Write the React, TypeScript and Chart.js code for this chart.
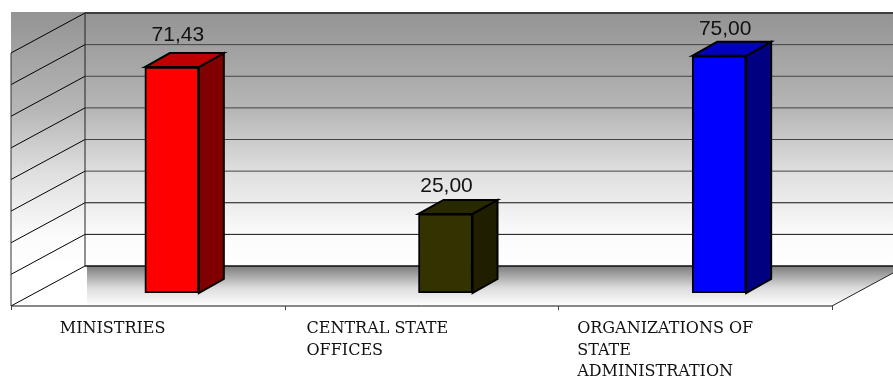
import { useEffect, useRef } from "react";
import { Chart, registerables } from "chart.js";

Chart.register(...registerables);

const categories = ["MINISTRIES", "CENTRAL STATE OFFICES", "ORGANIZATIONS OF STATE ADMINISTRATION"];
const categoryLines = [["MINISTRIES"], ["CENTRAL STATE", "OFFICES"], ["ORGANIZATIONS OF", "STATE", "ADMINISTRATION"]];
const values = [71.43, 25, 75];
const valueLabels = ["71,43", "25,00", "75,00"];
const frontColors = ["#ff0000", "#333300", "#0000ff"];
const sideColors = ["#800000", "#1f1f00", "#000080"];
const topColors = ["#bf0000", "#292900", "#0000bf"];

// Horizontal start of each axis caption relative to its category centre.
const captionShift = [-112, -139, -142];
const valueShift: [number, number][] = [[6, -26], [1, -22], [6, -21]];

// Depth of the oblique projection: bar plane to back wall, bar plane to front edge, bar thickness.
const WALL = { dx: 50, dy: -27 };
const FRONT = { dx: -24, dy: 13 };
const BAR = { dx: 25, dy: -14 };

const line = (ctx: CanvasRenderingContext2D, x1: number, y1: number, x2: number, y2: number, color: string, w = 1) => {
  ctx.strokeStyle = color;
  ctx.lineWidth = w;
  ctx.beginPath();
  ctx.moveTo(x1, y1);
  ctx.lineTo(x2, y2);
  ctx.stroke();
};

const poly = (ctx: CanvasRenderingContext2D, pts: number[][], fill: string) => {
  ctx.fillStyle = fill;
  ctx.strokeStyle = "#000";
  ctx.lineWidth = 2;
  ctx.lineJoin = "miter";
  ctx.beginPath();
  pts.forEach(([x, y], i) => (i ? ctx.lineTo(x, y) : ctx.moveTo(x, y)));
  ctx.closePath();
  ctx.fill();
  ctx.stroke();
};

const boxPlugin = {
  id: "box3d",
  beforeDatasetsDraw(chart: any) {
    const { ctx, scales, chartArea, width } = chart;
    const { y: ys } = scales;
    const zero = ys.getPixelForValue(0);
    const backLeft = chartArea.left + WALL.dx;
    const backY = zero + WALL.dy;
    const frontY = zero + FRONT.dy;
    const frontLeft = chartArea.left + FRONT.dx;
    const frontRight = chartArea.right + FRONT.dx;
    const depthX = WALL.dx - FRONT.dx;
    const depthY = FRONT.dy - WALL.dy;
    const topY = ys.getPixelForValue(80) + WALL.dy;

    ctx.save();
    // Wall shading spans both the side wall and the back wall.
    const wall = ctx.createLinearGradient(0, topY, 0, backY);
    wall.addColorStop(0, "#949494");
    wall.addColorStop(0.38, "#b6b6b6");
    wall.addColorStop(0.63, "#dfdfdf");
    wall.addColorStop(0.88, "#fbfbfb");
    wall.addColorStop(1, "#ffffff");
    ctx.fillStyle = wall;
    ctx.fillRect(frontLeft, topY - 1, width - frontLeft, backY - topY + 1);

    // Floor: a shaded band clipped to the floor parallelogram.
    ctx.fillStyle = "#fff";
    ctx.fillRect(frontLeft, backY, width - frontLeft, frontY - backY);
    ctx.beginPath();
    ctx.moveTo(backLeft + 2, backY);
    ctx.lineTo(width, backY);
    ctx.lineTo(width, frontY - (width - frontRight) * (depthY / depthX));
    ctx.lineTo(frontRight, frontY);
    ctx.lineTo(backLeft + 2, frontY);
    ctx.closePath();
    const floor = ctx.createLinearGradient(0, backY, 0, frontY);
    floor.addColorStop(0, "#7d7d7d");
    floor.addColorStop(0.55, "#dcdcdc");
    floor.addColorStop(1, "#ffffff");
    ctx.fillStyle = floor;
    ctx.fill();

    // Value grid on both walls.
    ys.ticks.forEach((t: any) => {
      const y = ys.getPixelForValue(t.value) + WALL.dy;
      if (t.value !== 0) line(ctx, backLeft, y, width, y, t.value > 20 ? "#444" : "#111");
      line(ctx, frontLeft, y + depthY, backLeft, y, "#000");
    });
    line(ctx, backLeft, backY, width, backY, "#111", 1.4);
    line(ctx, backLeft, topY, width, topY, "#111", 1.2);
    line(ctx, backLeft, topY, backLeft, backY, "#222");
    line(ctx, frontLeft, topY + depthY, frontLeft, frontY, "#333");
    line(ctx, frontLeft, frontY, frontRight, frontY, "#111");
    line(ctx, frontRight, frontY, width, frontY - (width - frontRight) * (depthY / depthX), "#222");

    // Category boundary ticks under the front edge.
    const step = (frontRight - frontLeft) / categories.length;
    for (let i = 0; i <= categories.length; i++) {
      const x = Math.round(frontLeft + i * step) + 0.5;
      line(ctx, x, frontY, x, frontY + 4, "#444");
    }

    // Side and top faces of each bar.
    values.forEach((v, i) => {
      const bar = chart.getDatasetMeta(0).data[i];
      const half = bar.width / 2;
      const l = bar.x - half;
      const r = bar.x + half;
      const t = ys.getPixelForValue(v);
      poly(ctx, [[r, t], [r + BAR.dx, t + BAR.dy], [r + BAR.dx, zero + BAR.dy], [r, zero]], sideColors[i]);
      poly(ctx, [[l, t], [l + BAR.dx, t + BAR.dy], [r + BAR.dx, t + BAR.dy], [r, t]], topColors[i]);
    });
    ctx.restore();
  },
  afterDatasetsDraw(chart: any) {
    const { ctx, scales } = chart;
    const { x: xs, y: ys } = scales;
    ctx.save();
    ctx.textBaseline = "alphabetic";
    ctx.textAlign = "center";
    ctx.fillStyle = "#111";
    ctx.font = '21px "Liberation Sans"';
    values.forEach((v, i) => {
      ctx.fillText(valueLabels[i], xs.getPixelForValue(i) + valueShift[i][0], ys.getPixelForValue(v) + valueShift[i][1]);
    });
    ctx.textAlign = "left";
    ctx.font = '16px "DejaVu Serif"';
    categoryLines.forEach((rows, i) => {
      rows.forEach((row, j) => {
        ctx.fillText(row, xs.getPixelForValue(i) + captionShift[i], 333 + j * 21.5);
      });
    });
    ctx.restore();
  },
};

export default function App() {
  const ref = useRef<HTMLCanvasElement>(null);
  useEffect(() => {
    document.body.style.margin = "0";
    const chart = new Chart(ref.current!, {
      type: "bar",
      data: {
        labels: categories,
        datasets: [
          {
            data: values,
            backgroundColor: frontColors,
            borderColor: "#000",
            borderWidth: 2,
            borderSkipped: false,
            barThickness: 54,
          },
        ],
      },
      options: {
        animation: false,
        responsive: false,
        layout: { padding: { left: 35, right: 37, top: 40, bottom: 83 } },
        plugins: { legend: { display: false }, tooltip: { enabled: false } },
        scales: {
          x: { display: false },
          y: { display: false, min: 0, max: 80, ticks: { stepSize: 10 } },
        },
      },
      plugins: [boxPlugin],
    });
    return () => chart.destroy();
  }, []);
  return <canvas ref={ref} width={893} height={376} style={{ display: "block" }} />;
}
